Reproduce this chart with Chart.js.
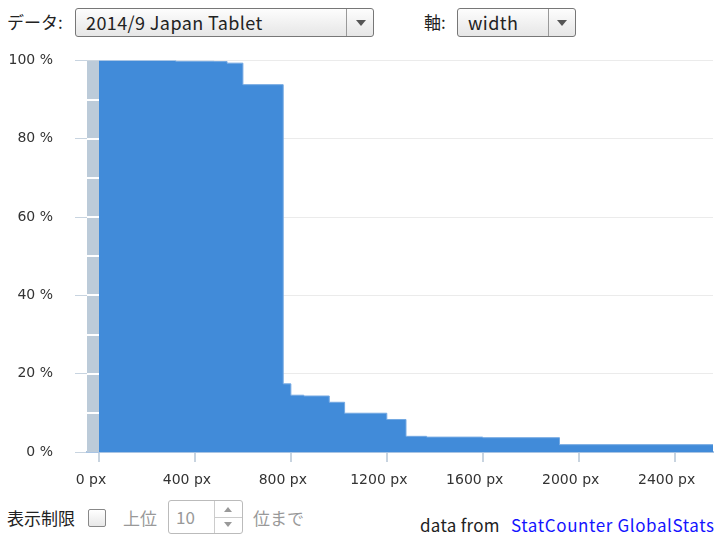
<!DOCTYPE html>
<html>
<head>
<meta charset="utf-8">
<script src="https://cdn.jsdelivr.net/npm/chart.js@4"></script>
<style>
  body { margin: 0; width: 720px; height: 540px; position: relative; background: #fff;
         font-family: "Noto Sans CJK JP", "Noto Sans", sans-serif; color: #222; overflow: hidden; }
  .lbl { position: absolute; font-size: 17px; line-height: 20px; }
  .sel { position: absolute; height: 27px; border: 1px solid #777; border-radius: 3px;
         background: linear-gradient(#fdfdfd, #e6e6e6); font-size: 18px; line-height: 27px; letter-spacing: 0.4px; box-sizing: content-box; }
  .sel .txt { position: absolute; left: 10px; top: 0; }
  .sel .div { position: absolute; top: 0; bottom: 0; border-left: 1px solid #999; }
  .sel .arr { position: absolute; top: 11px; width: 0; height: 0;
              border-left: 5px solid transparent; border-right: 5px solid transparent; border-top: 6px solid #555; }
  #chart { position: absolute; left: 0; top: 30px; }
  .gray { color: #999; }
  .box { position: absolute; border: 1px solid #bbb; border-radius: 3px; background: #fff; }
  a { color: #1414ff; text-decoration: none; }
</style>
</head>
<body>
<div class="lbl" style="left:7px; top:12px;">データ:</div>
<div class="sel" style="left:75px; top:8px; width:297px;">
  <span class="txt">2014/9 Japan Tablet</span>
  <span class="div" style="left:270px;"></span>
  <span class="arr" style="left:280px;"></span>
</div>
<div class="lbl" style="left:424px; top:12px;">軸:</div>
<div class="sel" style="left:457px; top:8px; width:117px;">
  <span class="txt">width</span>
  <span class="div" style="left:90px;"></span>
  <span class="arr" style="left:99px;"></span>
</div>

<canvas id="chart" width="720" height="465"></canvas>

<div class="lbl" style="left:7px; top:508px;">表示制限</div>
<div class="box" style="left:88px; top:509px; width:16px; height:16px; border-color:#888; border-radius:2px; background:linear-gradient(#fff,#e8e8e8);"></div>
<div class="lbl gray" style="left:123px; top:508px;">上位</div>
<div class="box" style="left:168px; top:500px; width:73px; height:32px;">
  <span class="gray" style="position:absolute; left:7px; top:6px; font-size:17px; line-height:20px;">10</span>
  <span style="position:absolute; left:45px; top:0; bottom:0; border-left:1px solid #ccc;"></span>
  <span style="position:absolute; left:45px; right:0; top:16px; border-top:1px solid #ccc;"></span>
  <span style="position:absolute; left:55px; top:6px; border-left:4px solid transparent; border-right:4px solid transparent; border-bottom:5px solid #999;"></span>
  <span style="position:absolute; left:55px; top:21px; border-left:4px solid transparent; border-right:4px solid transparent; border-top:5px solid #999;"></span>
</div>
<div class="lbl gray" style="left:253px; top:508px;">位まで</div>
<div class="lbl" style="left:420px; top:515px; font-size:17px; letter-spacing:0.3px;">data from</div>
<div class="lbl" style="left:511px; top:515px; font-size:17px; letter-spacing:0.6px;"><a href="#">StatCounter GlobalStats</a></div>

<script>
// screen widths (px) where the share steps down, last point closes the area
const widths = [0, 320, 480, 534, 600, 768, 800, 854, 960, 1024, 1200, 1280, 1366, 1600, 1920, 2560];
// share of tablets (%) with width >= the step start
const shares = [100, 99.8, 99.7, 99.3, 93.8, 17.4, 14.5, 14.3, 12.7, 9.9, 8.3, 4.0, 3.8, 3.65, 1.87, 1.87];
const xTicks = [0, 400, 800, 1200, 1600, 2000, 2400];
const xMin = -50, xMax = 2560;

const tickFont = { family: '"DejaVu Sans", sans-serif', size: 14 };

// gray band left of 0 px, split every 10 %
const bandPlugin = {
    id: 'band',
    beforeDatasetsDraw(chart) {
        const x = chart.scales.x, y = chart.scales.y, ctx = chart.ctx;
        const x0 = x.getPixelForValue(xMin), x1 = x.getPixelForValue(0);
        ctx.save();
        ctx.fillStyle = '#bccbd9';
        ctx.fillRect(x0, y.top, x1 - x0, y.bottom - y.top);
        ctx.fillStyle = '#fff';
        for (let v = 10; v < 100; v += 10) {
            const py = Math.round(y.getPixelForValue(v));
            ctx.fillRect(x0, py - 1, x1 - x0, 2);
        }
        ctx.restore();
    }
};

const ctx = document.getElementById('chart').getContext('2d');
const chart = new Chart(ctx, {
    type: 'line',
    data: {
        datasets: [{
            data: widths.map((w, i) => ({ x: w, y: shares[i] })),
            stepped: 'before',
            fill: 'origin',
            backgroundColor: '#418bd9',
            borderColor: '#74a9e3',
            borderWidth: 1,
            pointRadius: 0
        }]
    },
    options: {
        responsive: false,
        animation: false,
        layout: { padding: { top: 0, right: 7, left: 0, bottom: 0 } },
        plugins: { legend: { display: false }, tooltip: { enabled: false } },
        scales: {
            x: {
                type: 'linear',
                min: xMin,
                max: xMax,
                afterBuildTicks: s => { s.ticks = xTicks.map(v => ({ value: v })); },
                afterFit: s => { s.height = 43; },
                ticks: {
                    callback: v => v + ' px',
                    font: tickFont,
                    color: '#333',
                    padding: 10,
                    labelOffset: -8,
                    maxRotation: 0,
                    autoSkip: false
                },
                grid: { drawOnChartArea: false, tickLength: 10, tickColor: '#c8d4e0', lineWidth: 2 },
                border: { color: '#a9c4e3', width: 2 }
            },
            y: {
                min: 0,
                max: 100,
                afterFit: s => { s.width = 87; },
                ticks: {
                    stepSize: 20,
                    callback: v => v + ' %',
                    font: tickFont,
                    color: '#333',
                    padding: 22
                },
                grid: { color: '#ebebeb', tickLength: 12, tickColor: '#c8d4e0', lineWidth: 1 },
                border: { display: false }
            }
        }
    },
    plugins: [bandPlugin]
});
</script>
</body>
</html>
